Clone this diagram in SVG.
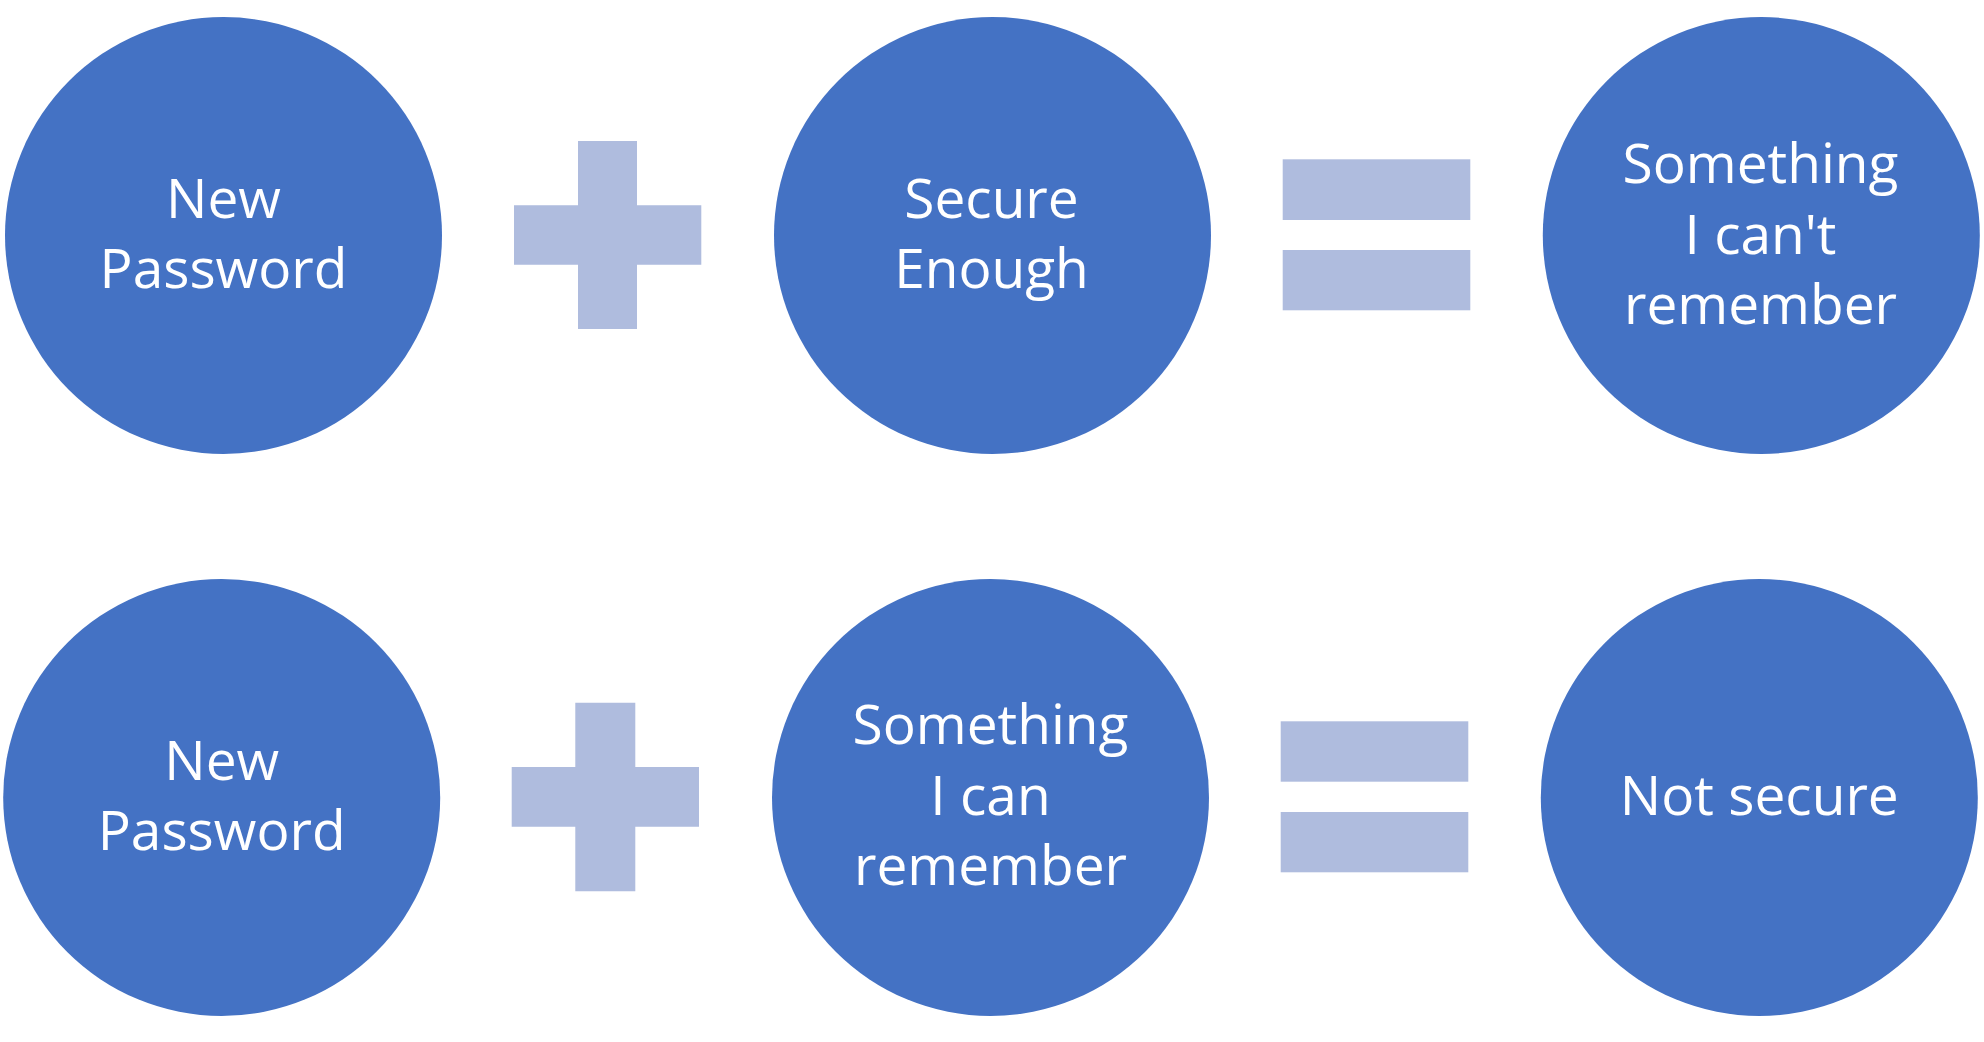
<svg xmlns="http://www.w3.org/2000/svg" width="1984" height="1042" viewBox="0 0 1984 1042">
<style>
.c{fill:#4472C4}
.op{fill:#AFBCDE}
.t{font-family:"Open Sans","Liberation Sans",sans-serif;font-size:55px;fill:#FFFFFF;text-anchor:middle}
</style>
<rect width="1984" height="1042" fill="#FFFFFF"/>
<g id="n1"><circle class="c" cx="223.5" cy="235.5" r="218.5"/><text class="t"><tspan x="223.5" y="218">New</tspan><tspan x="223.5" y="288">Password</tspan></text></g>
<g id="n2"><circle class="c" cx="992.5" cy="235.5" r="218.5"/><text class="t"><tspan x="991.5" y="218">Secure</tspan><tspan x="991.5" y="288">Enough</tspan></text></g>
<g id="n3"><circle class="c" cx="1761.3" cy="235.5" r="218.5"/><text class="t"><tspan x="1760.5" y="183">Something</tspan><tspan x="1760.5" y="254">I can't</tspan><tspan x="1760.5" y="323.5">remember</tspan></text></g>
<g id="n4"><circle class="c" cx="221.7" cy="797.5" r="218.5"/><text class="t"><tspan x="221.7" y="780">New</tspan><tspan x="221.7" y="850">Password</tspan></text></g>
<g id="n5"><circle class="c" cx="990.5" cy="797.5" r="218.5"/><text class="t"><tspan x="990.5" y="744">Something</tspan><tspan x="990.5" y="815">I can</tspan><tspan x="990.5" y="885">remember</tspan></text></g>
<g id="n6"><circle class="c" cx="1759.3" cy="797.5" r="218.5"/><text class="t"><tspan x="1759.3" y="815">Not secure</tspan></text></g>
<g id="connectors">
<path id="plus1" class="op" d="M578 141H637V205.3H701.3V264.7H637V329H578V264.7H514V205.3H578Z"/>
<rect id="eq1a" class="op" x="1282.7" y="159.3" width="187.6" height="60.7"/>
<rect id="eq1b" class="op" x="1282.7" y="250" width="187.6" height="60.3"/>
<path id="plus2" class="op" d="M575.3 702.7H635.3V767H699V826.7H635.3V891.3H575.3V826.7H511.7V767H575.3Z"/>
<rect id="eq2a" class="op" x="1280.7" y="721.3" width="187.6" height="60.4"/>
<rect id="eq2b" class="op" x="1280.7" y="812" width="187.6" height="60.3"/>
</g>
</svg>
